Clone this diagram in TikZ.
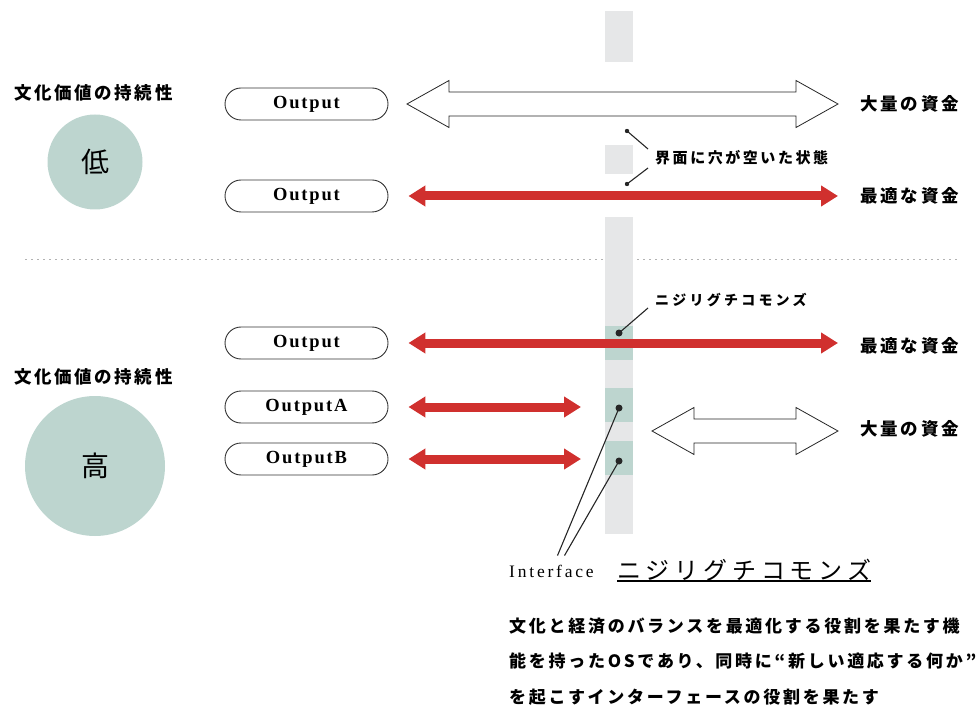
\documentclass[tikz,border=0pt]{standalone}
\usepackage{fontspec}
\setmainfont{Liberation Serif}
\newfontfamily\jp{Noto Sans CJK JP}
\usetikzlibrary{shapes.misc,arrows.meta}
\usepackage{xcolor}

\definecolor{rot}{HTML}{D0302E}
\definecolor{salbei}{HTML}{BDD5CF}
\definecolor{balken}{HTML}{E6E7E8}

%weisser Doppelpfeil: links, rechts, hoehe
\newcommand\hohlpfeil[3]{\draw[black!85, line width=0.8pt, fill=white] (#1,#3) -- ++(42,-23.5) -- ++(0,11.5) -- (#2-42,#3-12) -- ++(0,-11.5) -- (#2,#3) -- ++(-42,23.5) -- ++(0,-11.5) -- (#1+42,#3+12) -- ++(0,11.5) -- cycle;}

\begin{document}
\begin{tikzpicture}[x=1pt,y=-1pt,
  ausgabe/.style={rounded rectangle, draw=black!80, line width=0.9pt, minimum width=163pt, minimum height=32pt, inner sep=0pt, font=\fontsize{18.5}{18.5}\selectfont\bfseries\addfontfeatures{LetterSpace=10}},
  kreis/.style={circle, fill=salbei, inner sep=0pt, font=\jp\fontsize{28}{28}\selectfont},
  titel/.style={anchor=west, inner sep=0pt, font=\jp\bfseries\fontsize{17.5}{17.5}\selectfont\addfontfeatures{LetterSpace=15}},
  geld/.style={anchor=west, inner sep=0pt, font=\jp\bfseries\fontsize{17.5}{17.5}\selectfont\addfontfeatures{LetterSpace=16}},
  notiz/.style={anchor=west, inner sep=0pt, font=\jp\bfseries\fontsize{15}{15}\selectfont\addfontfeatures{LetterSpace=17}},
  absatz/.style={anchor=west, inner sep=0pt, font=\jp\bfseries\fontsize{17}{17}\selectfont\addfontfeatures{LetterSpace=16}},
  rotpfeil/.style={draw=rot, line width=9pt, {Triangle[length=17pt,width=20pt]}-{Triangle[length=17pt,width=20pt]}},
  strich/.style={draw=black!85, line width=1.1pt}]

\useasboundingbox (0,0) rectangle (979,708);

%Trennlinie
\draw[gray!60, line width=1pt, dash pattern=on 2pt off 4pt] (25,260) -- (960,260);

%Balken
\fill[balken] (605,11) rectangle (633,62);
\fill[balken] (605,145) rectangle (633,174);
\fill[balken] (605,217) rectangle (633,534);
\fill[salbei] (605,326) rectangle (633,360);
\fill[salbei] (605,388) rectangle (633,422);
\fill[salbei] (605,441) rectangle (633,475);

%oben: niedrig
\node[titel] (t1) at (14,93) {文化価値の持続性};
\node[kreis, minimum size=95pt] (k1) at (95,162) {低};
\node[ausgabe] (o1) at (306.5,104) {Output};
\node[ausgabe] (o2) at (306.5,196) {Output};
\node[geld] (g1) at (860,104) {大量の資金};
\node[geld] (g2) at (860,196) {最適な資金};

\hohlpfeil{407}{838}{104}
\draw[rotpfeil] ([xshift=20pt]o2.east) -- ([xshift=-22pt]o2.east -| g2.west);

%Loch im Balken
\node[notiz] (loch) at (655,158) {界面に穴が空いた状態};
\coordinate (p1) at (627,131);
\coordinate (p2) at (627,184);
\draw[strich] (p1) -- ([shift={(-7,-9)}]loch.west);
\draw[strich] (p2) -- ([shift={(-7,10)}]loch.west);
\fill[black!85] (p1) circle (2.2pt);
\fill[black!85] (p2) circle (2.2pt);

%unten: hoch
\node[titel] (t2) at (14,377) {文化価値の持続性};
\node[kreis, minimum size=140pt] (k2) at (95,466) {高};
\node[ausgabe] (o3) at (306.5,343) {Output};
\node[ausgabe] (o4) at (306.5,407) {OutputA};
\node[ausgabe] (o5) at (306.5,459) {OutputB};
\node[geld] (g3) at (860,346) {最適な資金};
\node[geld] (g4) at (860,429) {大量の資金};

\draw[rotpfeil] ([xshift=20pt]o3.east) -- ([xshift=-22pt]o3.east -| g3.west);
\coordinate (ea) at (581,407);
\coordinate (eb) at (581,459);
\draw[rotpfeil] ([xshift=20pt]o4.east) -- (ea);
\draw[rotpfeil] ([xshift=20pt]o5.east) -- (eb);
\hohlpfeil{652}{838}{431}

%Commons
\node[notiz, font=\jp\bfseries\fontsize{14}{14}\selectfont\addfontfeatures{LetterSpace=23}] (nk) at (655,300) {ニジリグチコモンズ};
\coordinate (p3) at (619,333);
\draw[strich] (p3) -- ([shift={(-7,8)}]nk.west);
\fill[black!85] (p3) circle (3.5pt);

\node[anchor=west, inner sep=0pt, font=\fontsize{17.5}{17.5}\selectfont\addfontfeatures{LetterSpace=16}] (ifc) at (509,571) {Interface};
\node[anchor=west, inner sep=0pt, font=\jp\fontsize{24}{24}\selectfont\addfontfeatures{LetterSpace=20}] (nm) at (617,570) {ニジリグチコモンズ};
\draw[line width=1.8pt] (nm.south west) -- (nm.south east);

\coordinate (p4) at (619,408);
\coordinate (p5) at (619,461);
\draw[strich] (p4) -- ([shift={(6,-9)}]ifc.north);
\draw[strich] (p5) -- ([shift={(13,-9)}]ifc.north);
\fill[black!85] (p4) circle (3.5pt);
\fill[black!85] (p5) circle (3.5pt);

%Erklaerung
\node[absatz] (z1) at (509,626) {文化と経済のバランスを最適化する役割を果たす機};
\node[absatz] (z2) at (509,661) {能を持ったOSであり、同時に“新しい適応する何か”};
\node[absatz] (z3) at (509,697) {を起こすインターフェースの役割を果たす};

\end{tikzpicture}
\end{document}
